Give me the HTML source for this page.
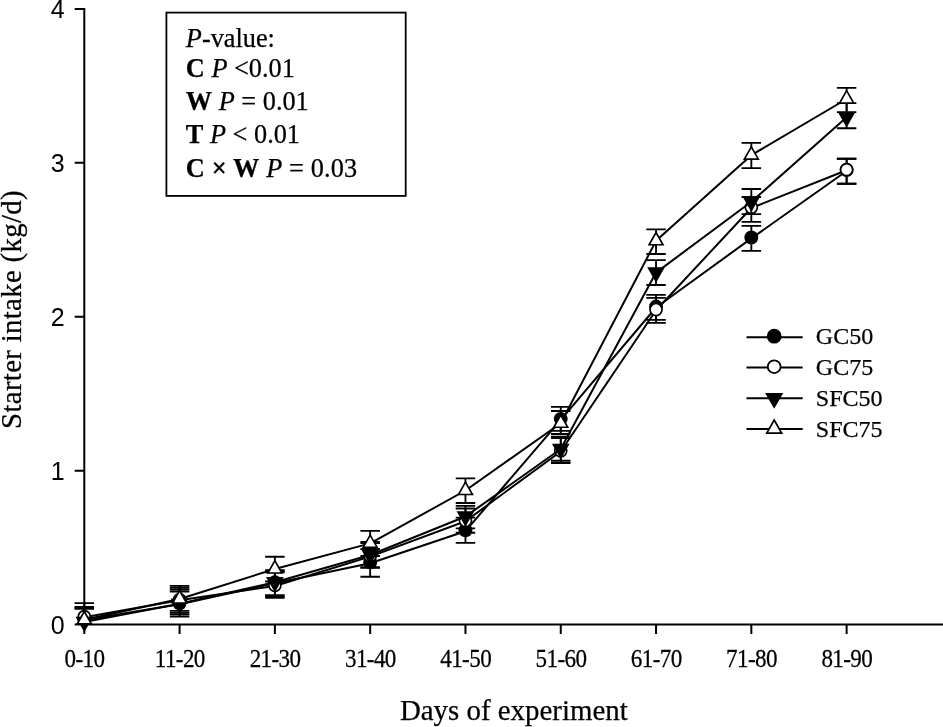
<!DOCTYPE html>
<html lang="en"><head><meta charset="utf-8"><title>Starter intake by days of experiment</title>
<style>html,body{margin:0;padding:0;background:#fff}svg{display:block}</style></head>
<body>
<svg width="943" height="727" viewBox="0 0 943 727">
<rect width="943" height="727" fill="#fff"/>
<path d="M84.3 7.9V624.6H943M74.7 624.6H84.3M74.7 470.68H84.3M74.7 316.75H84.3M74.7 162.82H84.3M74.7 8.9H84.3M84.3 624.6V634.1M179.59 624.6V634.1M274.88 624.6V634.1M370.17 624.6V634.1M465.46 624.6V634.1M560.75 624.6V634.1M656.04 624.6V634.1M751.33 624.6V634.1M846.62 624.6V634.1" fill="none" stroke="#000" stroke-width="2.0"/>
<g font-family="'Liberation Sans', Arial, sans-serif" font-size="25" text-anchor="end" fill="#000">
<text x="64.6" y="633.5">0</text>
<text x="64.6" y="479.57">1</text>
<text x="64.6" y="325.65">2</text>
<text x="64.6" y="171.72">3</text>
<text x="64.6" y="17.8">4</text>
</g>
<g font-family="'Liberation Serif', 'Times New Roman', serif" font-size="25.1" text-anchor="middle" fill="#000" stroke="#000" stroke-width="0.25">
<text transform="translate(84.5,667.3) scale(0.92,1)" letter-spacing="-0.65">0-10</text>
<text transform="translate(179.79,667.3) scale(0.92,1)" letter-spacing="-0.65">11-20</text>
<text transform="translate(275.08,667.3) scale(0.92,1)" letter-spacing="-0.65">21-30</text>
<text transform="translate(370.37,667.3) scale(0.92,1)" letter-spacing="-0.65">31-40</text>
<text transform="translate(465.66,667.3) scale(0.92,1)" letter-spacing="-0.65">41-50</text>
<text transform="translate(560.95,667.3) scale(0.92,1)" letter-spacing="-0.65">51-60</text>
<text transform="translate(656.24,667.3) scale(0.92,1)" letter-spacing="-0.65">61-70</text>
<text transform="translate(751.53,667.3) scale(0.92,1)" letter-spacing="-0.65">71-80</text>
<text transform="translate(846.82,667.3) scale(0.92,1)" letter-spacing="-0.65">81-90</text>
</g>
<g font-family="'Liberation Serif', 'Times New Roman', serif" fill="#000" stroke="#000" stroke-width="0.25">
<text x="513.8" y="719.6" font-size="28.9" text-anchor="middle">Days of experiment</text>
<text transform="translate(20.8,309.5) rotate(-90)" font-size="28.8" letter-spacing="0.33" text-anchor="middle">Starter intake (kg/d)</text>
<rect x="166.4" y="12.6" width="239.3" height="183.3" fill="#fff" stroke="#000" stroke-width="1.8"/>
<g font-size="26.3">
<text x="185.8" y="47"><tspan font-style="italic">P</tspan>-value:</text>
<text x="185.8" y="77.2"><tspan font-weight="bold">C</tspan> <tspan font-style="italic">P</tspan> &lt;0.01</text>
<text x="185.8" y="110"><tspan font-weight="bold">W</tspan> <tspan font-style="italic">P</tspan> = 0.01</text>
<text x="185.8" y="142.9"><tspan font-weight="bold">T</tspan> <tspan font-style="italic">P</tspan> &lt; 0.01</text>
<text x="185.8" y="176.9" letter-spacing="0.14"><tspan font-weight="bold">C × W</tspan> <tspan font-style="italic">P</tspan> = 0.03</text>
</g>
<g font-size="24">
<text x="815.8" y="344.2">GC50</text>
<text x="815.8" y="374.9">GC75</text>
<text x="815.8" y="406.1">SFC50</text>
<text x="815.8" y="436.6">SFC75</text>
</g>
</g>
<path d="M746.5 337.2H802.7" stroke="#000" stroke-width="2.0"/>
<circle cx="774.2" cy="336.2" r="7.4" fill="#000"/>
<path d="M746.5 367.4H802.7" stroke="#000" stroke-width="2.0"/>
<circle cx="774.2" cy="366.7" r="6.4" fill="#fff" stroke="#000" stroke-width="1.8"/>
<path d="M746.5 398.3H802.7" stroke="#000" stroke-width="2.0"/>
<polygon points="765.1,392.9 783.3,392.9 774.2,408.8" fill="#000"/>
<path d="M746.5 428.9H802.7" stroke="#000" stroke-width="2.0"/>
<polygon points="766.79,433.13 781.61,433.13 774.2,420.07" fill="#fff" stroke="#000" stroke-width="1.74" stroke-linejoin="miter"/>
<polyline points="84.3,620 179.59,604.2 274.88,583.2 370.17,563.3 465.46,531.2 560.75,419.8 656.04,307.5 751.33,238.4 846.62,171" fill="none" stroke="#000" stroke-width="2.0" stroke-linejoin="round"/>
<path d="M84.3 606.8V624.6M74.55 606.8H94.05M179.59 589.6V614.4M169.84 589.6H189.34M169.84 614.4H189.34M274.88 571.3V596.6M265.13 571.3H284.63M265.13 596.6H284.63M370.17 549V576.7M360.42 549H379.92M360.42 576.7H379.92M465.46 517.6V542.8M455.71 517.6H475.21M455.71 542.8H475.21M560.75 406.9V430.8M551 406.9H570.5M551 430.8H570.5M656.04 294.9V319.8M646.29 294.9H665.79M646.29 319.8H665.79M751.33 225.9V250.9M741.58 225.9H761.08M741.58 250.9H761.08M846.62 158.7V183.75M836.87 158.7H856.37M836.87 183.75H856.37" fill="none" stroke="#000" stroke-width="1.85"/>
<circle cx="84.3" cy="619.06" r="6.96" fill="#000"/>
<circle cx="179.59" cy="603.26" r="6.96" fill="#000"/>
<circle cx="274.88" cy="582.26" r="6.96" fill="#000"/>
<circle cx="370.17" cy="562.36" r="6.96" fill="#000"/>
<circle cx="465.46" cy="530.26" r="6.96" fill="#000"/>
<circle cx="560.75" cy="418.86" r="6.96" fill="#000"/>
<circle cx="656.04" cy="306.56" r="6.96" fill="#000"/>
<circle cx="751.33" cy="237.46" r="6.96" fill="#000"/>
<circle cx="846.62" cy="170.06" r="6.96" fill="#000"/>
<polyline points="84.3,617.3 179.59,600.2 274.88,586 370.17,556.6 465.46,521.2 560.75,451.5 656.04,310.2 751.33,208 846.62,170.3" fill="none" stroke="#000" stroke-width="2.0" stroke-linejoin="round"/>
<path d="M84.3 603.05V624.6M74.55 603.05H94.05M179.59 587.7V612.8M169.84 587.7H189.34M169.84 612.8H189.34M274.88 572.4V597.9M265.13 572.4H284.63M265.13 597.9H284.63M370.17 543V567.9M360.42 543H379.92M360.42 567.9H379.92M465.46 508.5V532.7M455.71 508.5H475.21M455.71 532.7H475.21M560.75 438.1V463M551 438.1H570.5M551 463H570.5M656.04 297.9V322.8M646.29 297.9H665.79M646.29 322.8H665.79M751.33 197V221.8M741.58 197H761.08M741.58 221.8H761.08M846.62 158.7V183.75M836.87 158.7H856.37M836.87 183.75H856.37" fill="none" stroke="#000" stroke-width="1.85"/>
<circle cx="84.3" cy="616.64" r="6.02" fill="#fff" stroke="#000" stroke-width="1.69"/>
<circle cx="179.59" cy="599.54" r="6.02" fill="#fff" stroke="#000" stroke-width="1.69"/>
<circle cx="274.88" cy="585.34" r="6.02" fill="#fff" stroke="#000" stroke-width="1.69"/>
<circle cx="370.17" cy="555.94" r="6.02" fill="#fff" stroke="#000" stroke-width="1.69"/>
<circle cx="465.46" cy="520.54" r="6.02" fill="#fff" stroke="#000" stroke-width="1.69"/>
<circle cx="560.75" cy="450.84" r="6.02" fill="#fff" stroke="#000" stroke-width="1.69"/>
<circle cx="656.04" cy="309.54" r="6.02" fill="#fff" stroke="#000" stroke-width="1.69"/>
<circle cx="751.33" cy="207.34" r="6.02" fill="#fff" stroke="#000" stroke-width="1.69"/>
<circle cx="846.62" cy="169.64" r="6.02" fill="#fff" stroke="#000" stroke-width="1.69"/>
<polyline points="84.3,622 179.59,603.8 274.88,582.2 370.17,555 465.46,516.5 560.75,449 656.04,272.6 751.33,201.8 846.62,117.2" fill="none" stroke="#000" stroke-width="2.0" stroke-linejoin="round"/>
<path d="M84.3 608.7V624.6M74.55 608.7H94.05M179.59 591.5V616.5M169.84 591.5H189.34M169.84 616.5H189.34M274.88 570.2V595.2M265.13 570.2H284.63M265.13 595.2H284.63M370.17 541.8V567.2M360.42 541.8H379.92M360.42 567.2H379.92M465.46 505.8V528.3M455.71 505.8H475.21M455.71 528.3H475.21M560.75 436.7V460.7M551 436.7H570.5M551 460.7H570.5M656.04 260.1V285M646.29 260.1H665.79M646.29 285H665.79M751.33 189V214.1M741.58 189H761.08M741.58 214.1H761.08M846.62 103.06V128.2M836.87 103.06H856.37M836.87 128.2H856.37" fill="none" stroke="#000" stroke-width="1.85"/>
<polygon points="75.47,616.76 93.13,616.76 84.3,632.18" fill="#000"/>
<polygon points="170.76,598.56 188.42,598.56 179.59,613.98" fill="#000"/>
<polygon points="266.05,576.96 283.71,576.96 274.88,592.38" fill="#000"/>
<polygon points="361.34,549.76 379,549.76 370.17,565.18" fill="#000"/>
<polygon points="456.63,511.26 474.29,511.26 465.46,526.68" fill="#000"/>
<polygon points="551.92,443.76 569.58,443.76 560.75,459.19" fill="#000"/>
<polygon points="647.21,267.36 664.87,267.36 656.04,282.79" fill="#000"/>
<polygon points="742.5,196.56 760.16,196.56 751.33,211.99" fill="#000"/>
<polygon points="837.79,111.96 855.45,111.96 846.62,127.39" fill="#000"/>
<polyline points="84.3,619.8 179.59,599 274.88,569 370.17,543.4 465.46,490.5 560.75,423.3 656.04,240.8 751.33,155.2 846.62,99" fill="none" stroke="#000" stroke-width="2.0" stroke-linejoin="round"/>
<path d="M84.3 607.8V624.6M74.55 607.8H94.05M179.59 585.9V610.8M169.84 585.9H189.34M169.84 610.8H189.34M274.88 556.7V581.5M265.13 556.7H284.63M265.13 581.5H284.63M370.17 530.9V556M360.42 530.9H379.92M360.42 556H379.92M465.46 478.3V503M455.71 478.3H475.21M455.71 503H475.21M560.75 411V434M551 411H570.5M551 434H570.5M656.04 229.4V254M646.29 229.4H665.79M646.29 254H665.79M751.33 142.9V168.1M741.58 142.9H761.08M741.58 168.1H761.08M846.62 87.86V112.1M836.87 87.86H856.37M836.87 112.1H856.37" fill="none" stroke="#000" stroke-width="1.85"/>
<polygon points="77.33,623.78 91.27,623.78 84.3,611.5" fill="#fff" stroke="#000" stroke-width="1.64" stroke-linejoin="miter"/>
<polygon points="172.62,602.98 186.56,602.98 179.59,590.7" fill="#fff" stroke="#000" stroke-width="1.64" stroke-linejoin="miter"/>
<polygon points="267.91,572.98 281.85,572.98 274.88,560.7" fill="#fff" stroke="#000" stroke-width="1.64" stroke-linejoin="miter"/>
<polygon points="363.2,547.38 377.14,547.38 370.17,535.1" fill="#fff" stroke="#000" stroke-width="1.64" stroke-linejoin="miter"/>
<polygon points="458.49,494.48 472.43,494.48 465.46,482.2" fill="#fff" stroke="#000" stroke-width="1.64" stroke-linejoin="miter"/>
<polygon points="553.78,427.28 567.72,427.28 560.75,415" fill="#fff" stroke="#000" stroke-width="1.64" stroke-linejoin="miter"/>
<polygon points="649.07,244.78 663.01,244.78 656.04,232.5" fill="#fff" stroke="#000" stroke-width="1.64" stroke-linejoin="miter"/>
<polygon points="744.36,159.18 758.3,159.18 751.33,146.9" fill="#fff" stroke="#000" stroke-width="1.64" stroke-linejoin="miter"/>
<polygon points="839.65,102.98 853.59,102.98 846.62,90.7" fill="#fff" stroke="#000" stroke-width="1.64" stroke-linejoin="miter"/>
</svg>
</body></html>
